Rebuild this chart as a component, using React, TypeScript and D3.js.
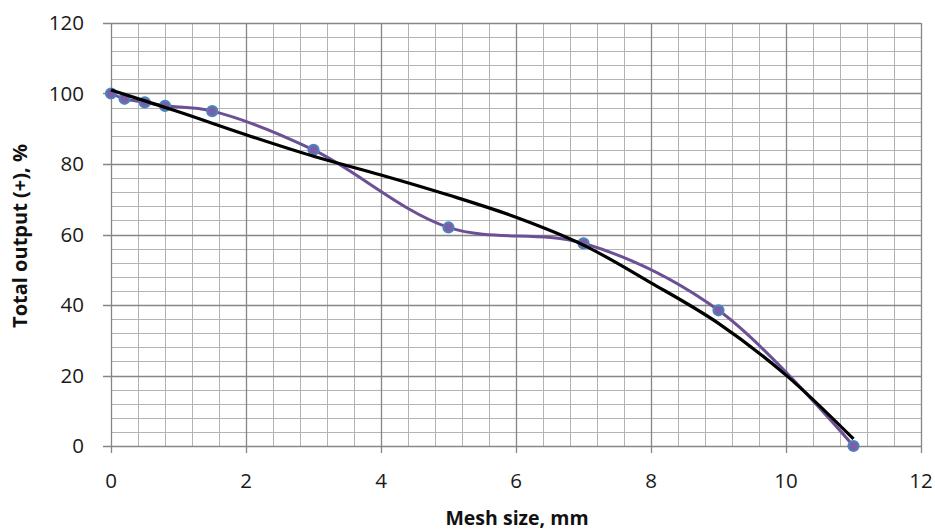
import React from "react";
import * as d3 from "d3";

const meshSize = [0, 0.2, 0.5, 0.8, 1.5, 3, 5, 7, 9, 11];
const totalOutput = [100, 98.5, 97.5, 96.5, 95, 84, 62, 57.5, 38.5, 0];

const trendX = [0, 1, 2, 3, 4, 5, 6, 7, 8, 9, 10, 11];
const trendY = [101, 94.8, 88.3, 82.2, 76.9, 71.2, 64.9, 57, 46.3, 34.8, 20.1, 2];

const xTicks = [0, 2, 4, 6, 8, 10, 12];
const yTicks = [0, 20, 40, 60, 80, 100, 120];

export default function App() {
  const W = 935, H = 532;
  const x = d3.scaleLinear().domain([0, 12]).range([111, 921]);
  const y = d3.scaleLinear().domain([0, 120]).range([446, 23]);

  const minorX = d3.range(0, 12.0001, 0.4);
  const minorY = d3.range(0, 120.0001, 4);
  const crisp = (v: number) => Math.round(v) + 0.5;

  const dataPts = meshSize.map((m, i) => [m, totalOutput[i]] as [number, number]);
  const trendPts = trendX.map((m, i) => [m, trendY[i]] as [number, number]);

  const smooth = d3
    .line<[number, number]>()
    .x((d) => x(d[0]))
    .y((d) => y(d[1]))
    .curve(d3.curveCatmullRom.alpha(0.5));

  const trendLine = d3
    .line<[number, number]>()
    .x((d) => x(d[0]))
    .y((d) => y(d[1]))
    .curve(d3.curveCatmullRom.alpha(0.5));

  const font = "'Open Sans', 'Liberation Sans', sans-serif";

  return (
    <svg
      width={W}
      height={H}
      style={{ position: "absolute", left: 0, top: 0, background: "#fff" }}
    >
      {/* minor grid */}
      {minorX.map((v, i) => (
        <line
          key={"mx" + i}
          x1={crisp(x(v))}
          x2={crisp(x(v))}
          y1={y(120)}
          y2={y(0)}
          stroke="#b3b3b3"
          strokeWidth={1}
        />
      ))}
      {minorY.map((v, i) => (
        <line
          key={"my" + i}
          x1={x(0)}
          x2={x(12)}
          y1={crisp(y(v))}
          y2={crisp(y(v))}
          stroke="#b3b3b3"
          strokeWidth={1}
        />
      ))}
      {/* major grid */}
      {xTicks.map((v, i) => (
        <line
          key={"Mx" + i}
          x1={crisp(x(v))}
          x2={crisp(x(v))}
          y1={y(120)}
          y2={y(0) + 7}
          stroke="#868686"
          strokeWidth={1.3}
        />
      ))}
      {yTicks.map((v, i) => (
        <line
          key={"My" + i}
          x1={x(0) - 8}
          x2={x(12)}
          y1={crisp(y(v))}
          y2={crisp(y(v))}
          stroke="#868686"
          strokeWidth={1.3}
        />
      ))}

      {/* tick labels */}
      {yTicks.map((v, i) => (
        <text
          key={"yl" + i}
          x={84}
          y={y(v)}
          dy="0.36em"
          textAnchor="end"
          fontFamily={font}
          fontSize={20.5}
          fill="#1a1a1a"
        >
          {v}
        </text>
      ))}
      {xTicks.map((v, i) => (
        <text
          key={"xl" + i}
          x={x(v)}
          y={488}
          textAnchor="middle"
          fontFamily={font}
          fontSize={20.5}
          fill="#1a1a1a"
        >
          {v}
        </text>
      ))}

      {/* axis titles */}
      <text
        x={517}
        y={525}
        textAnchor="middle"
        fontFamily={font}
        fontWeight="bold"
        fontSize={19.5}
        fill="#111"
      >
        Mesh size, mm
      </text>
      <text
        transform="translate(27,236) rotate(-90)"
        textAnchor="middle"
        fontFamily={font}
        fontWeight="bold"
        fontSize={20}
        fill="#111"
      >
        Total output (+), %
      </text>

      {/* smoothed data line */}
      <path
        d={smooth(dataPts) || ""}
        fill="none"
        stroke="#6b5096"
        strokeWidth={3}
      />
      {/* markers */}
      {dataPts.map((d, i) => (
        <circle
          key={"pt" + i}
          cx={x(d[0])}
          cy={y(d[1])}
          r={5}
          fill="#7a5ea6"
          stroke="#4f81bd"
          strokeWidth={2.2}
        />
      ))}
      {/* trend line */}
      <path
        d={trendLine(trendPts) || ""}
        fill="none"
        stroke="#000"
        strokeWidth={3.2}
      />
    </svg>
  );
}
